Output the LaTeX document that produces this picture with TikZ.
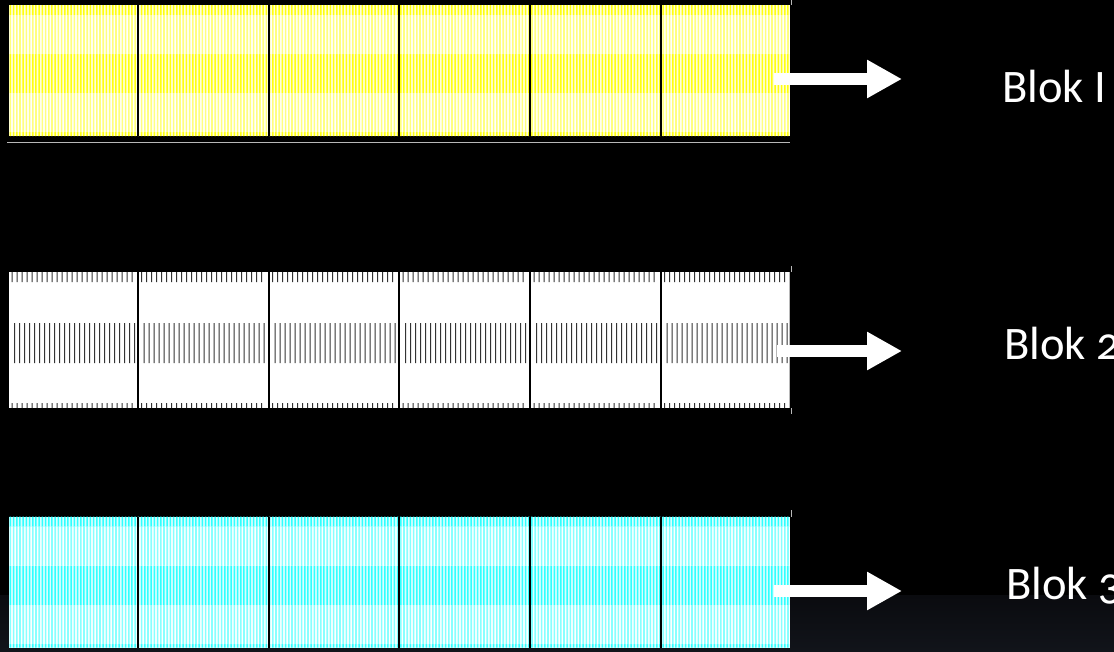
\documentclass[tikz,border=0pt]{standalone}
\usepackage{fontspec}
\newfontfamily\blokfont[Numbers=OldStyle]{Carlito}
\usetikzlibrary{arrows.meta}

\definecolor{ystrong}{HTML}{FFFF10}
\definecolor{ybase}{HTML}{FFFFD8}
\definecolor{ylight}{HTML}{FFFF80}
\definecolor{cstrong}{HTML}{30FFFF}
\definecolor{cbase}{HTML}{D8FFFF}
\definecolor{clight}{HTML}{88FFFF}
\definecolor{tickgray}{HTML}{333333}
\definecolor{rulegray}{HTML}{B8B8B8}
\definecolor{floorA}{HTML}{0A0B0F}
\definecolor{floorB}{HTML}{11141A}

% vertical stripes: x0, x1, y0, y1, colour, period, stripe width
\newcommand\vstripes[7]{%
  \pgfmathsetmacro\sxa{#1+0.6}%
  \pgfmathsetmacro\sxb{#1+0.6+#6}%
  \pgfmathsetmacro\sxc{#2-#7}%
  \fill[#5] \foreach \sx in {\sxa,\sxb,...,\sxc}{ (\sx,#3) rectangle ++(#7,#4-#3) };%
}

% one hatched block: top, band limits, bottom, colour prefix letter
\newcommand\hatchblock[7]{%
  \fill[white] (9,#1) rectangle (790,#6);
  \fill[#7base] (9,#1) rectangle (790,#2);
  \fill[#7base] (9,#3) rectangle (790,#4);
  \fill[#7base] (9,#5) rectangle (790,#6);
  \vstripes{9}{790}{#1}{#2}{#7strong}{3.2}{1.5}
  \vstripes{9}{790}{#3}{#4}{#7strong}{3.2}{1.5}
  \vstripes{9}{790}{#5}{#6}{#7strong}{3.2}{1.5}
  \vstripes{9}{790}{#2}{#3}{#7light}{3.2}{1.6}
  \vstripes{9}{790}{#4}{#5}{#7light}{3.2}{1.6}
  \foreach \dx in {137.5,268.5,399,530,660.5}
    \fill[black] (\dx-1,#1) rectangle (\dx+1,#6);
}

\tikzset{
  blockarrow/.style={draw=white, line width=11.7pt,
    -{Triangle[length=35pt,width=36pt]}},
  blokname/.style={anchor=base west, text=white, inner sep=0pt,
    font=\blokfont\fontsize{46.6}{50}\selectfont},
  thinrule/.style={draw=rulegray, line width=0.8pt}
}

\begin{document}
\begin{tikzpicture}[x=1pt,y=-1pt]
  \useasboundingbox (0,0) rectangle (1114,651);
  % backdrop
  \fill[black] (0,0) rectangle (1114,651);
  \shade[top color=floorA, bottom color=floorB] (0,595) rectangle (1114,651);

  % block 1 (yellow)
  \hatchblock{5}{15}{54}{93}{132}{136}{y}
  \draw[thinrule] (7,142.5) -- (790,142.5);
  \draw[thinrule] (791,0) -- (791,5);

  % block 2 (white with tick rows)
  \fill[white] (9,272) rectangle (790,408);
  \foreach \cx in {9,138.5,269.5,400,531,661.5}{
    \pgfmathsetmacro\ta{\cx+2.5}\pgfmathsetmacro\tb{\cx+7.5}\pgfmathsetmacro\tc{\cx+125}
    \pgfmathsetmacro\ma{\cx+5}\pgfmathsetmacro\mb{\cx+10}
    \fill[tickgray] \foreach \tx in {\ta,\tb,...,\tc}{ (\tx,272) rectangle ++(1,10) (\tx,403) rectangle ++(1,5) };
    \fill[tickgray] \foreach \tx in {\ma,\mb,...,\tc}{ (\tx,323) rectangle ++(1,40) };
  }
  \foreach \dx in {137.5,268.5,399,530,660.5}
    \fill[black] (\dx-1,272) rectangle (\dx+1,408);
  \draw[draw=rulegray, line width=1pt] (789.5,272) -- (789.5,408);
  \draw[thinrule] (791,266) -- (791,272);
  \draw[thinrule] (791,408) -- (791,414);

  % block 3 (cyan)
  \hatchblock{516.7}{526.7}{565.7}{605}{644}{647.7}{c}
  \draw[thinrule] (791,510) -- (791,516.7);

  % arrows and labels
  \coordinate (s1) at (774,79);   \coordinate (e1) at (902,79);
  \coordinate (s2) at (777,351);  \coordinate (e2) at (902,351);
  \coordinate (s3) at (774,591);  \coordinate (e3) at (902,591);
  \draw[blockarrow] (s1) -- (e1);
  \draw[blockarrow] (s2) -- (e2);
  \draw[blockarrow] (s3) -- (e3);

  \node[blokname] (b1) at (1002,102.3) {Blok I};
  \node[blokname] (b2) at (1004,359) {Blok 2};
  \node[blokname] (b3) at (1006,599.3) {Blok 3};
\end{tikzpicture}
\end{document}
